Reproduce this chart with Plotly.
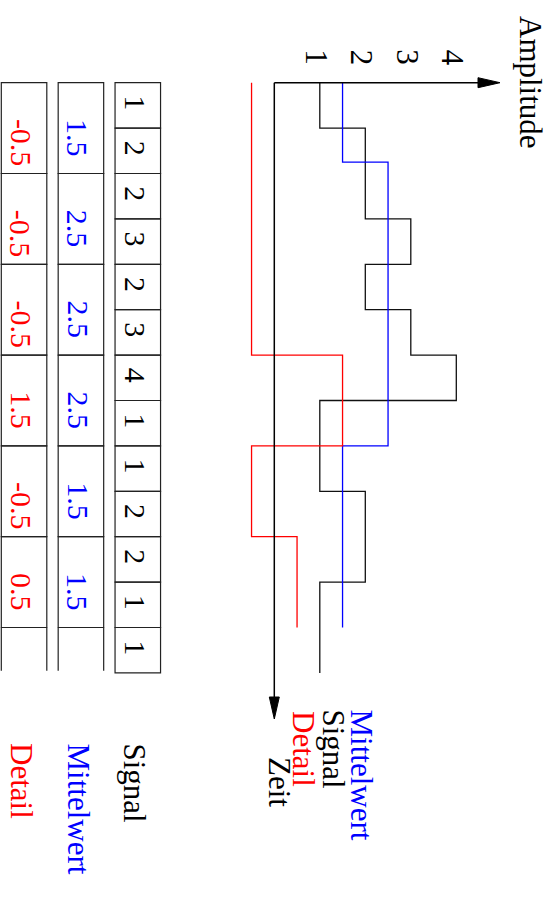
import plotly.graph_objects as go

# ---------------- data ----------------
signal = [1, 2, 2, 3, 2, 3, 4, 1, 1, 2, 2, 1, 1]
mittelwert = [1.5, 2.5, 2.5, 2.5, 1.5, 1.5]
detail = [-0.5, -0.5, -0.5, 1.5, -0.5, 0.5]
amp_ticks = [1, 2, 3, 4]
# Mittelwert curve as drawn (breakpoints in time, values)
mittel_line_t = [0, 1.75, 8, 12]
mittel_line_v = [1.5, 2.5, 1.5]
row_labels = ["Signal", "Mittelwert", "Detail"]
legend_labels = ["Mittelwert", "Signal", "Detail", "Zeit"]

BLUE, RED, BLACK = "#0000ff", "#ff0000", "#000000"
FONT = "Liberation Serif"
FS_NUM = 30
FS_TXT = 31

W, H = 553, 897
X0, XS = 274.3, 45.5   # pixel of amplitude 0, pixels per amplitude unit
Y0, YS = 82.7, 45.4    # pixel of time 0, pixels per time step


def ax(px):
    return (px - X0) / XS


def ty(py):
    return (py - Y0) / YS


def steps(values, times):
    xs, ys = [], []
    for v, t0, t1 in zip(values, times[:-1], times[1:]):
        xs += [v, v]
        ys += [t0, t1]
    return xs, ys


fig = go.Figure()

# signal
sig_t = list(range(len(signal) + 1))
xs, ys = steps(signal, sig_t)
fig.add_trace(go.Scatter(x=xs, y=ys, mode="lines", line=dict(color="#111111", width=1.3),
                         hoverinfo="skip", showlegend=False))
# mittelwert
xs, ys = steps(mittel_line_v, mittel_line_t)
fig.add_trace(go.Scatter(x=xs, y=ys, mode="lines", line=dict(color=BLUE, width=1.3),
                         hoverinfo="skip", showlegend=False))
# detail
det_t = [2 * k for k in range(len(detail) + 1)]
xs, ys = steps(detail, det_t)
fig.add_trace(go.Scatter(x=xs, y=ys, mode="lines", line=dict(color=RED, width=1.3),
                         hoverinfo="skip", showlegend=False))

shapes = []
annots = []

# axes with arrows
h_tip, h_base = ax(500), ax(478)
v_tip, v_base = ty(719), ty(697)
hw_t = 5 / YS
hw_a = 5 / XS
shapes.append(dict(type="line", xref="x", yref="y", x0=0, y0=0, x1=h_base, y1=0,
                   line=dict(color=BLACK, width=1.5)))
shapes.append(dict(type="line", xref="x", yref="y", x0=0, y0=0, x1=0, y1=v_base,
                   line=dict(color=BLACK, width=1.5)))
shapes.append(dict(type="path", xref="x", yref="y",
                   path=f"M{h_base},{-hw_t} L{h_tip},0 L{h_base},{hw_t} Z",
                   fillcolor=BLACK, line=dict(color=BLACK, width=1)))
shapes.append(dict(type="path", xref="x", yref="y",
                   path=f"M{-hw_a},{v_base} L0,{v_tip} L{hw_a},{v_base} Z",
                   fillcolor=BLACK, line=dict(color=BLACK, width=1)))


def text(x, y, s, color=BLACK, xanchor="center", yanchor="middle", size=FS_NUM):
    annots.append(dict(x=x, y=y, xref="x", yref="y", text=s, showarrow=False,
                       textangle=90, xanchor=xanchor, yanchor=yanchor,
                       font=dict(family=FONT, size=size, color=color)))


# amplitude tick labels
for v in amp_ticks:
    text(v - 0.077, ty(57.5), str(v), size=FS_TXT)
text(ax(531), ty(82), "Amplitude", size=FS_TXT)

# tables
BORDER = dict(color="#222222", width=1.2)
sig_x = (-3.5, -2.5)
mit_x = (-4.75, -3.75)
det_x = (-6.0, -5.0)
for i, v in enumerate(signal):
    shapes.append(dict(type="rect", xref="x", yref="y", x0=sig_x[0], x1=sig_x[1],
                       y0=i, y1=i + 1, line=BORDER))
    text(sum(sig_x) / 2 - 0.05, i + 0.5 - 2.5 / YS, f"{v:g}")
for (xx, vals, col) in [(mit_x, mittelwert, BLUE), (det_x, detail, RED)]:
    for k, v in enumerate(vals):
        shapes.append(dict(type="rect", xref="x", yref="y", x0=xx[0], x1=xx[1],
                           y0=2 * k, y1=2 * k + 2, line=BORDER))
        text(sum(xx) / 2 - 0.06, 2 * k + 34.5 / YS, f"{v:g}", color=col, yanchor="top")
    # open last cell
    t_end = 2 * len(vals)
    for xv in xx:
        shapes.append(dict(type="line", xref="x", yref="y", x0=xv, x1=xv,
                           y0=t_end, y1=t_end + 0.95, line=BORDER))

# row labels
text(ax(134), ty(741), row_labels[0], yanchor="top", size=FS_TXT)
text(ax(78), ty(741), row_labels[1], color=BLUE, yanchor="top", size=FS_TXT)
text(ax(22), ty(741), row_labels[2], color=RED, yanchor="top", size=FS_TXT)

# legend labels near time axis
text(ax(361), ty(707), legend_labels[0], color=BLUE, yanchor="top", size=FS_TXT)
text(ax(333), ty(707), legend_labels[1], yanchor="top", size=FS_TXT)
text(ax(304), ty(709), legend_labels[2], color=RED, yanchor="top", size=FS_TXT)
text(ax(280), ty(755), legend_labels[3], yanchor="top", size=FS_TXT)

fig.update_layout(
    width=W, height=H,
    margin=dict(l=0, r=0, t=0, b=0),
    paper_bgcolor="white", plot_bgcolor="white",
    xaxis=dict(range=[ax(0), ax(W)], visible=False, fixedrange=True),
    yaxis=dict(range=[ty(H), ty(0)], visible=False, fixedrange=True),
    shapes=shapes, annotations=annots,
    showlegend=False,
)

fig.write_html("out.html", config={"displayModeBar": False},
               post_script="document.body.style.margin='0px';document.body.style.overflow='hidden';")
